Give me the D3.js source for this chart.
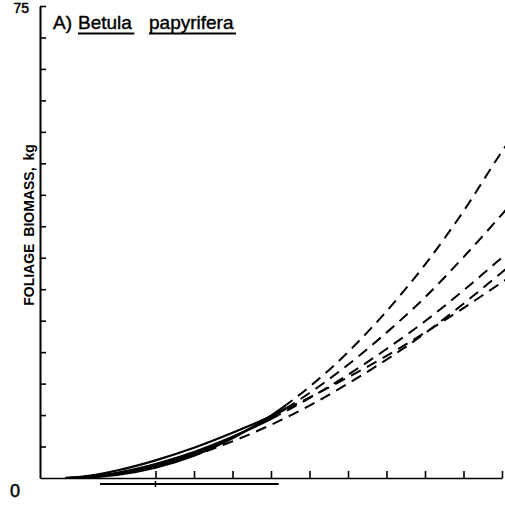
<!DOCTYPE html>
<html>
<head>
<meta charset="utf-8">
<script src="https://cdn.jsdelivr.net/npm/d3@7"></script>
<style>
  html, body { margin: 0; padding: 0; background: #fff; }
  svg { display: block; }
  text { font-family: "Liberation Sans", Arial, sans-serif; fill: #000; }
</style>
</head>
<body>
<svg id="chart" width="505" height="506"></svg>
<script>
// ---- data ----
const xValues = [3.25, 5, 10, 15, 20, 25, 30, 35, 40, 45, 50, 55, 60, 60.5];
const seriesA = [0, 0.02, 0.48, 1.63, 3.54, 6.31, 9.91, 14.5, 20.0, 26.5, 33.9, 42.4, 51.9, 52.8];
const seriesB = [0, 0.05, 0.66, 1.95, 3.88, 6.47, 9.67, 13.5, 18.0, 23.1, 28.7, 35.1, 41.9, 42.6];
const seriesC = [0, 0.08, 0.84, 2.23, 4.13, 6.54, 9.38, 12.7, 16.4, 20.5, 24.9, 29.8, 35.0, 35.5];
const seriesD = [0, 0.06, 0.71, 1.92, 3.63, 5.83, 8.45, 11.5, 15.0, 18.8, 23.0, 27.7, 32.7, 33.2];
const seriesE = [0, 0.15, 1.19, 2.80, 4.80, 7.18, 9.83, 12.8, 16.0, 19.4, 23.1, 27.0, 31.1, 31.5];
const allSeries = [seriesA, seriesB, seriesC, seriesD, seriesE];
const solidEnd = [32, 32, 31, 21, 32];          // observed-data limit of each curve
const sampleRange = [7.8, 31];                  // bar under the x axis
const sampleMark = 15;
const yTickValues = [5, 10, 15, 20, 25, 30, 35, 40, 45, 50, 55, 60, 65, 70, 75];
const xTickValues = [15, 20, 25, 30, 35, 40, 45, 50, 55, 60];
const yLabelTop = "75";
const originLabel = "0";
const titleParts = ["A)", "Betula", "papyrifera"];
const yTitle = "FOLIAGE BIOMASS, kg";

// ---- scales ----
const svg = d3.select("#chart");
const x = d3.scaleLinear().domain([0, 60]).range([40, 502]);
const y = d3.scaleLinear().domain([0, 75]).range([478, 6]);

// ---- axes ----
const yAxis = d3.axisRight(y).tickValues(yTickValues).tickSize(6).tickFormat("").tickSizeOuter(0);
const gy = svg.append("g").attr("transform", `translate(${x(0)},0)`).call(yAxis);
gy.select(".domain").attr("stroke-width", 2);
gy.selectAll(".tick line").attr("stroke-width", 1.6);

const xAxis = d3.axisTop(x).tickValues(xTickValues).tickSize(7).tickFormat("").tickSizeOuter(0);
const gx = svg.append("g").attr("transform", `translate(0,${y(0)})`).call(xAxis);
gx.select(".domain").attr("stroke-width", 1.6);
gx.selectAll(".tick line").attr("stroke-width", 1.6);

// axis numbers
svg.append("text").attr("x", 29).attr("y", 12.5).attr("text-anchor", "end")
  .attr("font-size", 14).attr("stroke", "#000").attr("stroke-width", 0.5).text(yLabelTop);
svg.append("text").attr("x", 15).attr("y", 497).attr("text-anchor", "middle")
  .attr("font-size", 18).attr("stroke", "#000").attr("stroke-width", 0.5).text(originLabel);

// y title
svg.append("text")
  .attr("transform", `translate(34,225) rotate(-90)`)
  .attr("text-anchor", "middle").attr("font-size", 14).attr("font-weight", "bold")
  .attr("word-spacing", 3)
  .text(yTitle);

// title
const titleY = 29;
const tA = svg.append("text").attr("x", 53).attr("y", titleY).attr("font-size", 19)
  .attr("stroke", "#000").attr("stroke-width", 0.4).text(titleParts[0]);
const t1 = svg.append("text").attr("x", 78).attr("y", titleY).attr("font-size", 19)
  .attr("stroke", "#000").attr("stroke-width", 0.4).text(titleParts[1]);
const t2 = svg.append("text").attr("x", 149).attr("y", titleY).attr("font-size", 19)
  .attr("stroke", "#000").attr("stroke-width", 0.4).text(titleParts[2]);
[t1, t2].forEach(t => {
  const bb = t.node().getBBox();
  svg.append("line").attr("x1", bb.x).attr("x2", bb.x + bb.width + 2)
    .attr("y1", 33.5).attr("y2", 33.5).attr("stroke", "#000").attr("stroke-width", 2);
});

// sample range bar
svg.append("line").attr("x1", x(sampleRange[0])).attr("x2", x(sampleRange[1]))
  .attr("y1", 484).attr("y2", 484).attr("stroke", "#000").attr("stroke-width", 2);
svg.append("line").attr("x1", x(sampleMark)).attr("x2", x(sampleMark))
  .attr("y1", 481).attr("y2", 487).attr("stroke", "#000").attr("stroke-width", 1.5);

// ---- curves ----
const defs = svg.append("defs");
const line = d3.line().x(d => x(d[0])).y(d => y(d[1])).curve(d3.curveMonotoneX);

allSeries.forEach((s, i) => {
  const pts = xValues.map((xv, j) => [xv, s[j]]);
  const xe = x(solidEnd[i]);
  defs.append("clipPath").attr("id", "solid" + i)
    .append("rect").attr("x", 0).attr("y", 0).attr("width", xe).attr("height", 506);
  defs.append("clipPath").attr("id", "dash" + i)
    .append("rect").attr("x", xe).attr("y", 0).attr("width", 505 - xe).attr("height", 506);
  svg.append("path").attr("d", line(pts)).attr("fill", "none").attr("stroke", "#000")
    .attr("stroke-width", 2.2).attr("clip-path", `url(#solid${i})`);
  svg.append("path").attr("d", line(pts)).attr("fill", "none").attr("stroke", "#000")
    .attr("stroke-width", 2).attr("stroke-dasharray", "11,7")
    .attr("clip-path", `url(#dash${i})`);
});
</script>
</body>
</html>
